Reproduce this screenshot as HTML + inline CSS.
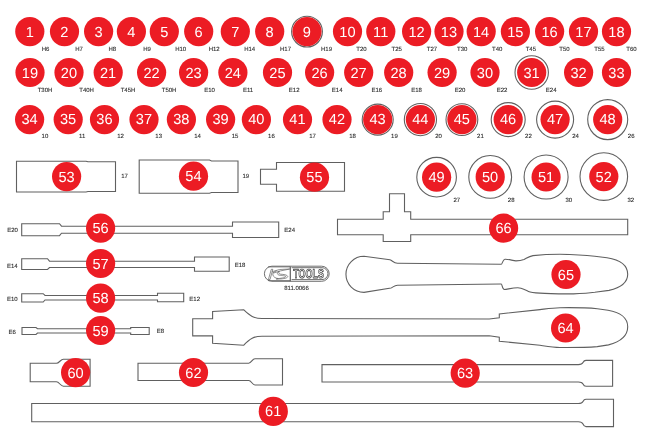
<!DOCTYPE html>
<html><head><meta charset="utf-8"><style>
html,body{margin:0;padding:0;background:#fff;}
body{width:645px;height:443px;overflow:hidden;}
svg{display:block;will-change:transform;}
text{font-family:"Liberation Sans",sans-serif;text-rendering:geometricPrecision;}
.n{font-size:14.6px;fill:#fff;text-anchor:middle;}
.l{font-size:6px;fill:#2a2a2a;stroke:#2a2a2a;stroke-width:0.1px;text-anchor:middle;}
</style></head><body>
<svg width="645" height="443" viewBox="0 0 645 443">
<rect width="645" height="443" fill="#fff"/>
<g fill="#fff" stroke="#606060" stroke-width="1.1" stroke-linejoin="miter">
<path d="M16.5 161.2 H86 L88 161.8 H115.5 V191.5 H88 L86 192 H16.5 Z"/><path d="M139.2 160 H209.5 L211.5 161 H238 V192.5 H211.5 L209.5 193.2 H139.2 Z"/><path d="M260.5 169.2 H276.5 V162.5 H344.5 V191.2 H276.5 V184.2 H260.5 Z"/><path d="M389.5 193.7 H404.5 V211.7 H410.7 V219.2 H627.7 V234.8 H410.7 V241.5 H383.2 V234.8 H337.5 V219.2 H383.2 V211.7 H389.5 Z"/><path d="M21.7 223.7 H59.5 L61.5 226.2 H232.5 V222 H278.7 V237.5 H232.5 V233.2 H61.5 L59.5 235.7 H21.7 Z"/><path d="M21.7 258.7 H47.5 L49.5 261.2 H194.5 V257 H229.2 V271.2 H194.5 V267.5 H49.5 L47.5 269.5 H21.7 Z"/><path d="M21.7 293.7 H43.2 L45 295.5 H157.5 V293.2 H183.7 V301.7 H157.5 V300 H45 L43.2 302 H21.7 Z"/><path d="M22 327.5 H36 L37.5 328.7 H130.7 V327.5 H149.2 V334.5 H130.7 V333 H37.5 L36 334.5 H22 Z"/><path d="M30.2 363.3 H56.4 C59.2 363.3 60.6 359.2 63.4 359.2 H90.1 V386.3 H63.4 C60.6 386.3 59.2 381.7 56.4 381.7 H30.2 Z"/><path d="M138 363.2 H248.7 C251.5 363.2 252.2 358.7 255 358.7 H282.5 V385 H255 C252.2 385 251.5 380.5 248.7 380.5 H138 Z"/><path d="M322 364.6 H578.4 Q582 364.6 583 362.5 Q584 360.4 586 360.4 H612.6 V386.3 H586 Q584 386.3 583 384 Q582 382 578.4 382 H322 Z"/><path d="M31.7 403.5 H578.4 Q582 403.5 583 401.4 Q584 399.3 586 399.3 H613.5 V426.6 H586 Q584 426.6 583 424 Q582 421.7 578.4 421.7 H31.7 Z"/><path d="M192.7 318.7 H212.6 V311.5 L243.6 309.7 C250 316 254 318.5 262 318.5 L489.2 319 L499.3 317.7 V313.9 L540 309.6 C548 308.6 553 307.8 560 307.7 C575 307.5 590 308 597.3 308.7 L608 310.2 C620 312.2 627.7 318 627.7 326.7 C627.7 335.5 620 341.8 608.5 344.9 L597.3 346.6 C590 347.2 575 347.6 560 347.5 C553 347.4 548 346.5 540 345.3 L499.3 341.2 V337.2 L489.2 335.8 L262 336.2 C254 336.2 250 338.5 243.6 345.3 L212.6 343.2 V335.9 H192.7 Z"/><path d="M364 256.3 L389.9 259.8 C392.5 260.6 393.5 263.2 397.5 263.3 L501.2 264.3 C502.5 264.3 502.5 259.5 505 259.2 C509 259 513 260.9 516 260.9 C520 260.9 522 260.3 524 259.5 C527 258 529 256.4 533 255.6 C542 254.6 552 254.2 560 254.2 C575 254.4 588 255.4 594.8 256.2 L607 257.7 C620 259.8 627.7 265.5 627.7 274.2 C627.7 282.5 620 287.8 609 290.4 L594.8 292.2 C588 292.9 580 293.9 567.9 293.9 C555 293.9 545 293.6 540 293.1 C534 292.7 531 292.5 528.5 291.4 C524 289.5 521 287.7 517.9 287.7 C512 287.7 507 289.5 504.5 289.5 C502 289.5 502.3 284 501.2 284 L397.5 285.3 C394 285.3 393 287.5 391 288 L364 292.4 A18.05 18.05 0 0 1 364 256.3 Z"/>
</g>

<g fill="none" stroke="#606060" stroke-width="0.9">
<rect x="264.4" y="266.2" width="64.8" height="15.1" rx="7.55"/>
<path d="M291.6 267.7 H322 A5.95 5.95 0 0 1 322 279.6 H291.6"/>
<path d="M268 266.9 H290 M268 280.6 H290" stroke-width="0.8"/>
<line x1="290.3" y1="266.4" x2="290.3" y2="281.2" stroke-width="1.2"/>
</g>
<g fill="none" stroke="#606060" stroke-width="0.7" stroke-linejoin="round">
<path d="M268.4 279.6 L271.3 269.3 H272.8 L270 279.6 Z"/>
<path d="M272.4 271.6 L279.6 269.5 L289.8 269 L280.5 270.9 L273.6 273 Z"/>
<path d="M276.6 270.9 C273.5 271.8 272.4 273.4 272.9 275 C273.5 277 275.5 278.3 278 278.5"/>
<path d="M279.4 271.2 C278.2 272.2 278.5 273.8 280.5 274.2 C283.5 274.4 287.3 274.8 287.7 276.3 C288 277.8 285 278.6 281 278.9 L276.2 279 C280.5 278.2 285.5 277.8 285.6 276.6 C285.7 275.7 282 275.6 279.8 275.3 C276.8 274.8 276.5 272.5 279.4 271.2 Z"/>
</g>
<text x="308.6" y="278.3" text-anchor="middle" font-size="12.8" font-weight="bold" fill="#fff" stroke="#4a4a4a" stroke-width="0.85" stroke-linejoin="round" textLength="30.5" lengthAdjust="spacingAndGlyphs">TOOLS</text>
<text x="296.5" y="290.3" class="l">811.0066</text>

<circle cx="29.8" cy="31.6" r="14.6" fill="#ec1c24"/><text x="29.7" y="36.6" class="n">1</text><circle cx="64.5" cy="31.6" r="14.6" fill="#ec1c24"/><text x="64.4" y="36.6" class="n">2</text><circle cx="98.6" cy="31.6" r="14.6" fill="#ec1c24"/><text x="98.5" y="36.6" class="n">3</text><circle cx="131.4" cy="31.6" r="14.6" fill="#ec1c24"/><text x="131.3" y="36.6" class="n">4</text><circle cx="164.3" cy="31.6" r="14.6" fill="#ec1c24"/><text x="164.2" y="36.6" class="n">5</text><circle cx="198.7" cy="31.6" r="14.6" fill="#ec1c24"/><text x="198.6" y="36.6" class="n">6</text><circle cx="235.3" cy="31.6" r="14.6" fill="#ec1c24"/><text x="235.2" y="36.6" class="n">7</text><circle cx="269.7" cy="31.6" r="14.6" fill="#ec1c24"/><text x="269.6" y="36.6" class="n">8</text><circle cx="307" cy="31.6" r="15.4" fill="none" stroke="#606060" stroke-width="1.1"/><circle cx="307" cy="31.6" r="14.6" fill="#ec1c24"/><text x="306.9" y="36.6" class="n">9</text><circle cx="347.5" cy="31.6" r="14.6" fill="#ec1c24"/><text x="347.4" y="36.6" class="n">10</text><circle cx="380.8" cy="31.6" r="14.6" fill="#ec1c24"/><text x="380.7" y="36.6" class="n">11</text><circle cx="416.6" cy="31.6" r="14.6" fill="#ec1c24"/><text x="416.5" y="36.6" class="n">12</text><circle cx="449" cy="31.6" r="14.6" fill="#ec1c24"/><text x="448.9" y="36.6" class="n">13</text><circle cx="481.2" cy="31.6" r="14.6" fill="#ec1c24"/><text x="481.1" y="36.6" class="n">14</text><circle cx="515.4" cy="31.6" r="14.6" fill="#ec1c24"/><text x="515.3" y="36.6" class="n">15</text><circle cx="549.6" cy="31.6" r="14.6" fill="#ec1c24"/><text x="549.5" y="36.6" class="n">16</text><circle cx="583.5" cy="31.6" r="14.6" fill="#ec1c24"/><text x="583.4" y="36.6" class="n">17</text><circle cx="616.5" cy="31.6" r="14.6" fill="#ec1c24"/><text x="616.4" y="36.6" class="n">18</text><circle cx="30" cy="72.5" r="14.6" fill="#ec1c24"/><text x="29.9" y="77.5" class="n">19</text><circle cx="69" cy="72.5" r="14.6" fill="#ec1c24"/><text x="68.9" y="77.5" class="n">20</text><circle cx="108.2" cy="72.5" r="14.6" fill="#ec1c24"/><text x="108.1" y="77.5" class="n">21</text><circle cx="151.6" cy="72.5" r="14.6" fill="#ec1c24"/><text x="151.5" y="77.5" class="n">22</text><circle cx="193.6" cy="72.5" r="14.6" fill="#ec1c24"/><text x="193.5" y="77.5" class="n">23</text><circle cx="232.9" cy="72.5" r="14.6" fill="#ec1c24"/><text x="232.8" y="77.5" class="n">24</text><circle cx="277.5" cy="72.5" r="14.6" fill="#ec1c24"/><text x="277.4" y="77.5" class="n">25</text><circle cx="319.6" cy="72.5" r="14.6" fill="#ec1c24"/><text x="319.5" y="77.5" class="n">26</text><circle cx="358.7" cy="72.5" r="14.6" fill="#ec1c24"/><text x="358.6" y="77.5" class="n">27</text><circle cx="398.7" cy="72.5" r="14.6" fill="#ec1c24"/><text x="398.6" y="77.5" class="n">28</text><circle cx="442.1" cy="72.5" r="14.6" fill="#ec1c24"/><text x="442.0" y="77.5" class="n">29</text><circle cx="485" cy="72.5" r="14.6" fill="#ec1c24"/><text x="484.9" y="77.5" class="n">30</text><circle cx="531.7" cy="72.5" r="16.7" fill="none" stroke="#606060" stroke-width="1.1"/><circle cx="531.7" cy="72.5" r="14.6" fill="#ec1c24"/><text x="531.6" y="77.5" class="n">31</text><circle cx="578.6" cy="72.5" r="14.6" fill="#ec1c24"/><text x="578.5" y="77.5" class="n">32</text><circle cx="616.5" cy="72.5" r="14.6" fill="#ec1c24"/><text x="616.4" y="77.5" class="n">33</text><circle cx="29.6" cy="119.6" r="14.6" fill="#ec1c24"/><text x="29.5" y="124.1" class="n">34</text><circle cx="68.2" cy="119.6" r="14.6" fill="#ec1c24"/><text x="68.1" y="124.1" class="n">35</text><circle cx="104.5" cy="119.6" r="14.6" fill="#ec1c24"/><text x="104.4" y="124.1" class="n">36</text><circle cx="144" cy="119.6" r="14.6" fill="#ec1c24"/><text x="143.9" y="124.1" class="n">37</text><circle cx="181.4" cy="119.6" r="14.6" fill="#ec1c24"/><text x="181.3" y="124.1" class="n">38</text><circle cx="220.6" cy="119.6" r="14.6" fill="#ec1c24"/><text x="220.5" y="124.1" class="n">39</text><circle cx="256.4" cy="119.6" r="14.6" fill="#ec1c24"/><text x="256.3" y="124.1" class="n">40</text><circle cx="297.5" cy="119.6" r="14.6" fill="#ec1c24"/><text x="297.4" y="124.1" class="n">41</text><circle cx="337" cy="119.6" r="14.6" fill="#ec1c24"/><text x="336.9" y="124.1" class="n">42</text><circle cx="377.7" cy="119.6" r="15.5" fill="none" stroke="#606060" stroke-width="1.1"/><circle cx="377.7" cy="119.6" r="14.6" fill="#ec1c24"/><text x="377.6" y="124.1" class="n">43</text><circle cx="420.4" cy="119.6" r="16.1" fill="none" stroke="#606060" stroke-width="1.1"/><circle cx="420.4" cy="119.6" r="14.6" fill="#ec1c24"/><text x="420.3" y="124.1" class="n">44</text><circle cx="461.9" cy="119.6" r="15.9" fill="none" stroke="#606060" stroke-width="1.1"/><circle cx="461.9" cy="119.6" r="14.6" fill="#ec1c24"/><text x="461.8" y="124.1" class="n">45</text><circle cx="508.2" cy="119.6" r="17" fill="none" stroke="#606060" stroke-width="1.1"/><circle cx="508.2" cy="119.6" r="14.6" fill="#ec1c24"/><text x="508.1" y="124.1" class="n">46</text><circle cx="555.1" cy="119.6" r="18.5" fill="none" stroke="#606060" stroke-width="1.1"/><circle cx="555.1" cy="119.6" r="14.6" fill="#ec1c24"/><text x="555.0" y="124.1" class="n">47</text><circle cx="607.7" cy="119.6" r="20" fill="none" stroke="#606060" stroke-width="1.1"/><circle cx="607.7" cy="119.6" r="14.6" fill="#ec1c24"/><text x="607.6" y="124.1" class="n">48</text><circle cx="66.6" cy="176.6" r="14.6" fill="#ec1c24"/><text x="66.5" y="181.6" class="n">53</text><circle cx="193.5" cy="176.2" r="14.6" fill="#ec1c24"/><text x="193.4" y="181.2" class="n">54</text><circle cx="314.5" cy="177.2" r="14.6" fill="#ec1c24"/><text x="314.4" y="182.2" class="n">55</text><circle cx="503.6" cy="228.1" r="14.6" fill="#ec1c24"/><text x="503.5" y="233.1" class="n">66</text><circle cx="100.6" cy="228.1" r="14.6" fill="#ec1c24"/><text x="100.5" y="233.1" class="n">56</text><circle cx="100.6" cy="263.5" r="14.6" fill="#ec1c24"/><text x="100.5" y="268.5" class="n">57</text><circle cx="100.6" cy="298.1" r="14.6" fill="#ec1c24"/><text x="100.5" y="303.1" class="n">58</text><circle cx="100.6" cy="330.5" r="14.6" fill="#ec1c24"/><text x="100.5" y="335.5" class="n">59</text><circle cx="566" cy="274.5" r="14.6" fill="#ec1c24"/><text x="565.9" y="279.5" class="n">65</text><circle cx="565.6" cy="328" r="14.6" fill="#ec1c24"/><text x="565.5" y="333.0" class="n">64</text><circle cx="75.6" cy="372.6" r="14.6" fill="#ec1c24"/><text x="75.5" y="377.6" class="n">60</text><circle cx="193.5" cy="372.5" r="14.6" fill="#ec1c24"/><text x="193.4" y="377.5" class="n">62</text><circle cx="465.2" cy="373.1" r="14.6" fill="#ec1c24"/><text x="465.1" y="378.1" class="n">63</text><circle cx="273.3" cy="411.4" r="14.6" fill="#ec1c24"/><text x="273.2" y="416.4" class="n">61</text><circle cx="436.6" cy="177.2" r="19.8" fill="none" stroke="#606060" stroke-width="1.1"/><circle cx="436.6" cy="177.2" r="14.6" fill="#ec1c24"/><text x="436.5" y="182.2" class="n">49</text><circle cx="490.2" cy="176.9" r="21.4" fill="none" stroke="#606060" stroke-width="1.1"/><circle cx="490.2" cy="176.9" r="14.6" fill="#ec1c24"/><text x="490.1" y="181.9" class="n">50</text><circle cx="546.1" cy="177" r="22" fill="none" stroke="#606060" stroke-width="1.1"/><circle cx="546.1" cy="177" r="14.6" fill="#ec1c24"/><text x="546.0" y="182.0" class="n">51</text><circle cx="603.8" cy="176.6" r="23.8" fill="none" stroke="#606060" stroke-width="1.1"/><circle cx="603.8" cy="176.6" r="14.6" fill="#ec1c24"/><text x="603.7" y="181.6" class="n">52</text>
<text x="45.6" y="50.8" class="l">H6</text><text x="79" y="50.8" class="l">H7</text><text x="112.3" y="50.8" class="l">H8</text><text x="147" y="50.8" class="l">H9</text><text x="180.7" y="50.8" class="l">H10</text><text x="214.2" y="50.8" class="l">H12</text><text x="249.7" y="50.8" class="l">H14</text><text x="285.5" y="50.8" class="l">H17</text><text x="326.5" y="50.8" class="l">H19</text><text x="361.5" y="50.8" class="l">T20</text><text x="396.7" y="50.8" class="l">T25</text><text x="432" y="50.8" class="l">T27</text><text x="462.2" y="50.8" class="l">T30</text><text x="497.2" y="50.8" class="l">T40</text><text x="530.8" y="50.8" class="l">T45</text><text x="564.5" y="50.8" class="l">T50</text><text x="599.5" y="50.8" class="l">T55</text><text x="631.5" y="50.8" class="l">T60</text><text x="45" y="92.2" class="l">T30H</text><text x="86.6" y="92.2" class="l">T40H</text><text x="128" y="92.2" class="l">T45H</text><text x="169.1" y="92.2" class="l">T50H</text><text x="209.5" y="92.2" class="l">E10</text><text x="248.1" y="92.2" class="l">E11</text><text x="294.2" y="92.2" class="l">E12</text><text x="337.2" y="92.2" class="l">E14</text><text x="376.8" y="92.2" class="l">E16</text><text x="416.5" y="92.2" class="l">E18</text><text x="460" y="92.2" class="l">E20</text><text x="502" y="92.2" class="l">E22</text><text x="551.2" y="92.2" class="l">E24</text><text x="44.9" y="138.2" class="l">10</text><text x="82.2" y="138.2" class="l">11</text><text x="120.6" y="138.2" class="l">12</text><text x="158.7" y="138.2" class="l">13</text><text x="197.6" y="138.2" class="l">14</text><text x="235" y="138.2" class="l">15</text><text x="271.4" y="138.2" class="l">16</text><text x="312.5" y="138.2" class="l">17</text><text x="352.6" y="138.2" class="l">18</text><text x="394.4" y="138.2" class="l">19</text><text x="438.5" y="138.2" class="l">20</text><text x="480.4" y="138.2" class="l">21</text><text x="528.4" y="138.2" class="l">22</text><text x="575.5" y="138.2" class="l">24</text><text x="631.2" y="138.2" class="l">26</text><text x="124.6" y="178.2" class="l">17</text><text x="245.8" y="178.2" class="l">19</text><text x="456.8" y="202.2" class="l">27</text><text x="511.2" y="202.2" class="l">28</text><text x="568.8" y="202.2" class="l">30</text><text x="630.8" y="202.2" class="l">32</text><text x="12.5" y="231.9" class="l">E20</text><text x="289.7" y="232.2" class="l">E24</text><text x="12.3" y="267.6" class="l">E14</text><text x="240" y="267.4" class="l">E18</text><text x="12.3" y="300.6" class="l">E10</text><text x="194.7" y="300.6" class="l">E12</text><text x="12.1" y="333.8" class="l">E6</text><text x="160.3" y="333.2" class="l">E8</text>
</svg>
</body></html>
